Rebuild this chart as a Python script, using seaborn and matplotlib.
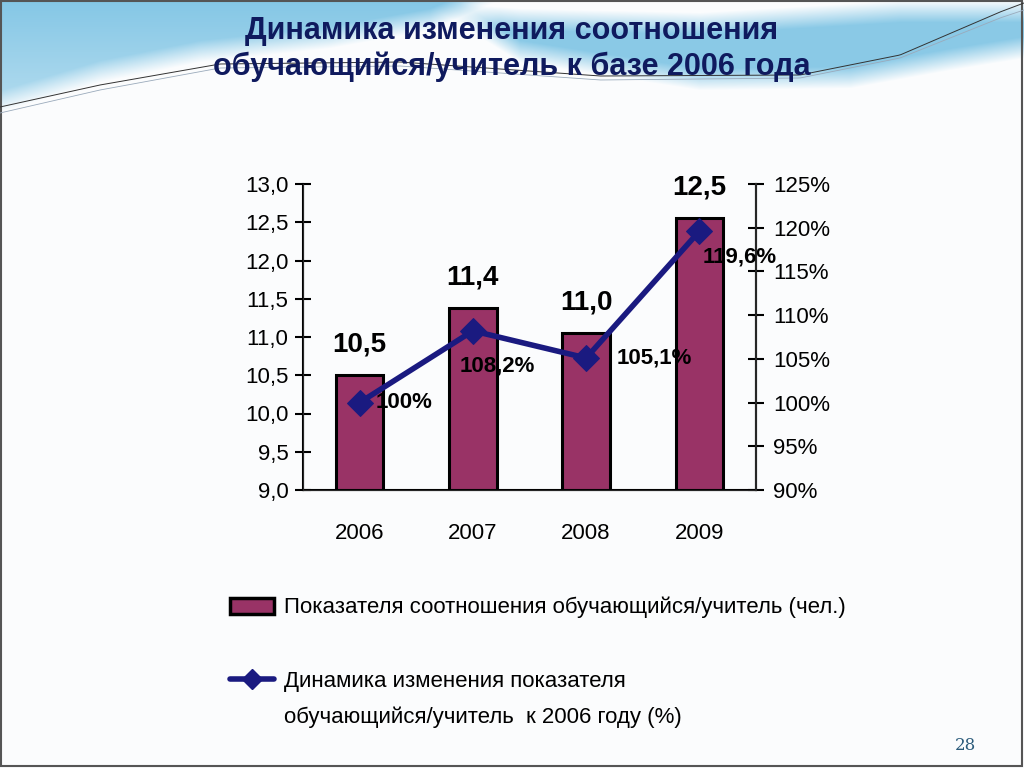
import numpy as np
import pandas as pd
import matplotlib
matplotlib.use("Agg")
import matplotlib.pyplot as plt
from matplotlib.patches import Patch, Rectangle
from matplotlib.lines import Line2D
from matplotlib.ticker import FuncFormatter, FixedLocator
import seaborn as sns

# ---- data ----
years = ["2006", "2007", "2008", "2009"]
ratio_values = [10.5, 11.38, 11.05, 12.55]
ratio_labels = ["10,5", "11,4", "11,0", "12,5"]
pct_values = [100.0, 108.2, 105.1, 119.6]
pct_labels = ["100%", "108,2%", "105,1%", "119,6%"]
title_text = "Динамика изменения соотношения\nобучающийся/учитель к базе 2006 года"
legend_bar = "Показателя соотношения обучающийся/учитель (чел.)"
legend_line_1 = "Динамика изменения показателя"
legend_line_2 = "обучающийся/учитель  к 2006 году (%)"

sns.set_style("white")
FONT = ["Liberation Sans Narrow", "Liberation Sans", "DejaVu Sans"]
plt.rcParams["font.family"] = FONT
for k in ["text.color", "axes.labelcolor", "xtick.color", "ytick.color"]:
    plt.rcParams[k] = "black"

BAR_COLOR = "#993366"
LINE_COLOR = "#1a1a80"
TITLE_COLOR = "#0f1a5e"

fig = plt.figure(figsize=(10.24, 7.68), dpi=100)

# ---- decorative slide background ----
bg = fig.add_axes([0, 0, 1, 1], zorder=-10)
W, H = 1024, 768
xx, yy = np.meshgrid(np.arange(W), np.arange(H), indexing="xy")
xcol = np.arange(W)
left_low = np.interp(xcol, [0, 100, 200, 330, 430, 500], [112, 82, 62, 48, 30, 0])
right_top = np.interp(xcol, [420, 520, 700, 900, 1024], [0, 8, 12, 0, 0])
right_low = np.interp(xcol, [420, 520, 700, 850, 950, 1024], [0, 62, 90, 88, 70, 58])
soft = 22.0
left_mask = np.clip((left_low[None, :] - yy) / soft, 0, 1) * np.clip((520 - xx) / 60.0, 0, 1)
right_mask = (np.clip((yy - right_top[None, :]) / soft, 0, 1) *
              np.clip((right_low[None, :] - yy) / soft, 0, 1) * np.clip((xx - 420) / 80.0, 0, 1))
blue = np.clip(left_mask * (0.6 + 0.4 * np.clip(1 - yy / 110.0, 0, 1)) + 0.95 * right_mask, 0, 1)
c_top = np.array([0.52, 0.78, 0.90])
c_bg = np.array([0.985, 0.99, 0.995])
img = c_bg[None, None, :] * (1 - blue[..., None]) + c_top[None, None, :] * blue[..., None]
bg.imshow(img, extent=[0, W, H, 0], aspect="auto", interpolation="bilinear")
line_x = np.linspace(0, W, 400)
knots_x = [0, 100, 220, 400, 600, 800, 900, 1000, 1024]
line_dark = np.interp(line_x, knots_x, [107, 85, 64, 62, 76, 75, 55, 12, 3])
line_light = np.interp(line_x, knots_x, [113, 90, 68, 66, 80, 78, 58, 18, 10])
bg.plot(line_x, line_dark, color="#333333", lw=0.7)
bg.plot(line_x, line_light, color="#9aaabb", lw=0.6)
bg.add_patch(Rectangle((1, 1), W - 3, H - 3, fill=False, edgecolor="#555555", lw=1.5))
bg.set_xlim(0, W)
bg.set_ylim(H, 0)
bg.axis("off")

# ---- title ----
fig.text(0.5, 1 - 49 / H, title_text, ha="center", va="center", fontsize=22,
         fontweight="bold", color=TITLE_COLOR, linespacing=1.25)

# ---- main axes ----
ax = fig.add_axes([303 / W, 1 - 490 / H, (756 - 303) / W, (490 - 184) / H])
ax.patch.set_alpha(0)
df = pd.DataFrame({"year": years, "ratio": ratio_values, "pct": pct_values})
sns.barplot(data=df, x="year", y="ratio", ax=ax, color=BAR_COLOR, width=0.42,
            edgecolor="black", linewidth=2.2, saturation=1)
ax.set_ylim(9.0, 13.0)
ax.set_xlim(-0.5, 3.5)
ax.set_yticks(np.arange(9.0, 13.01, 0.5))
ax.yaxis.set_major_formatter(FuncFormatter(lambda v, p: f"{v:.1f}".replace(".", ",")))
ax.set_xlabel("")
ax.set_ylabel("")
ax.spines["top"].set_visible(False)
for s in ["left", "bottom", "right"]:
    ax.spines[s].set_color("black")
    ax.spines[s].set_linewidth(1.5)
ax.tick_params(axis="y", direction="inout", length=11, width=1.5, labelsize=16, pad=5)
ax.tick_params(axis="x", which="major", length=0, labelsize=16, pad=24)
ax.xaxis.set_minor_locator(FixedLocator([0.5, 1.5, 2.5]))
ax.tick_params(axis="x", which="minor", direction="inout", length=11, width=1.5)

for i, (v, lab) in enumerate(zip(ratio_values, ratio_labels)):
    ax.text(i, v + 0.23, lab, ha="center", va="bottom", fontsize=20, fontweight="bold")

# ---- secondary axis ----
ax2 = ax.twinx()
sns.lineplot(data=df.assign(xi=np.arange(len(years))), x="xi", y="pct", ax=ax2,
             color=LINE_COLOR, lw=4, marker="D", markersize=13,
             markeredgecolor=LINE_COLOR, zorder=5)
ax2.set_xlim(-0.5, 3.5)
ax2.set_ylim(90, 125)
ax2.set_yticks(np.arange(90, 126, 5))
ax2.yaxis.set_major_formatter(FuncFormatter(lambda v, p: f"{v:.0f}%"))
ax2.set_ylabel("")
ax2.set_xlabel("")
ax2.spines["top"].set_visible(False)
ax2.spines["right"].set_linewidth(1.5)
ax2.tick_params(axis="y", direction="inout", length=11, width=1.5, labelsize=16, pad=7)

offsets = [(0.14, 0.0, "left"), (0.22, -4.0, "center"), (0.27, 0.0, "left"), (0.03, -3.0, "left")]
for i, (v, lab) in enumerate(zip(pct_values, pct_labels)):
    dx, dy, ha = offsets[i]
    ax2.text(i + dx, v + dy, lab, ha=ha, va="center", fontsize=16, fontweight="bold")

# ---- legend ----
handles = [Patch(facecolor=BAR_COLOR, edgecolor="black", linewidth=2.5),
           Line2D([0], [0], color=LINE_COLOR, lw=4, marker="D", markersize=10)]
fig.legend(handles, [legend_bar, legend_line_1], loc="upper left",
           bbox_to_anchor=(210 / W, 1 - 577 / H), frameon=False, fontsize=16,
           handlelength=2.0, handleheight=0.75, handletextpad=0.45, labelspacing=2.35)
fig.text(284 / W, 1 - 717 / H, legend_line_2, ha="left", va="center", fontsize=16)

fig.text(965 / W, 1 - 745 / H, "28", ha="center", va="center", fontsize=12,
         family="DejaVu Serif", color="#2a5a7a")

fig.savefig("out.png", dpi=100)
